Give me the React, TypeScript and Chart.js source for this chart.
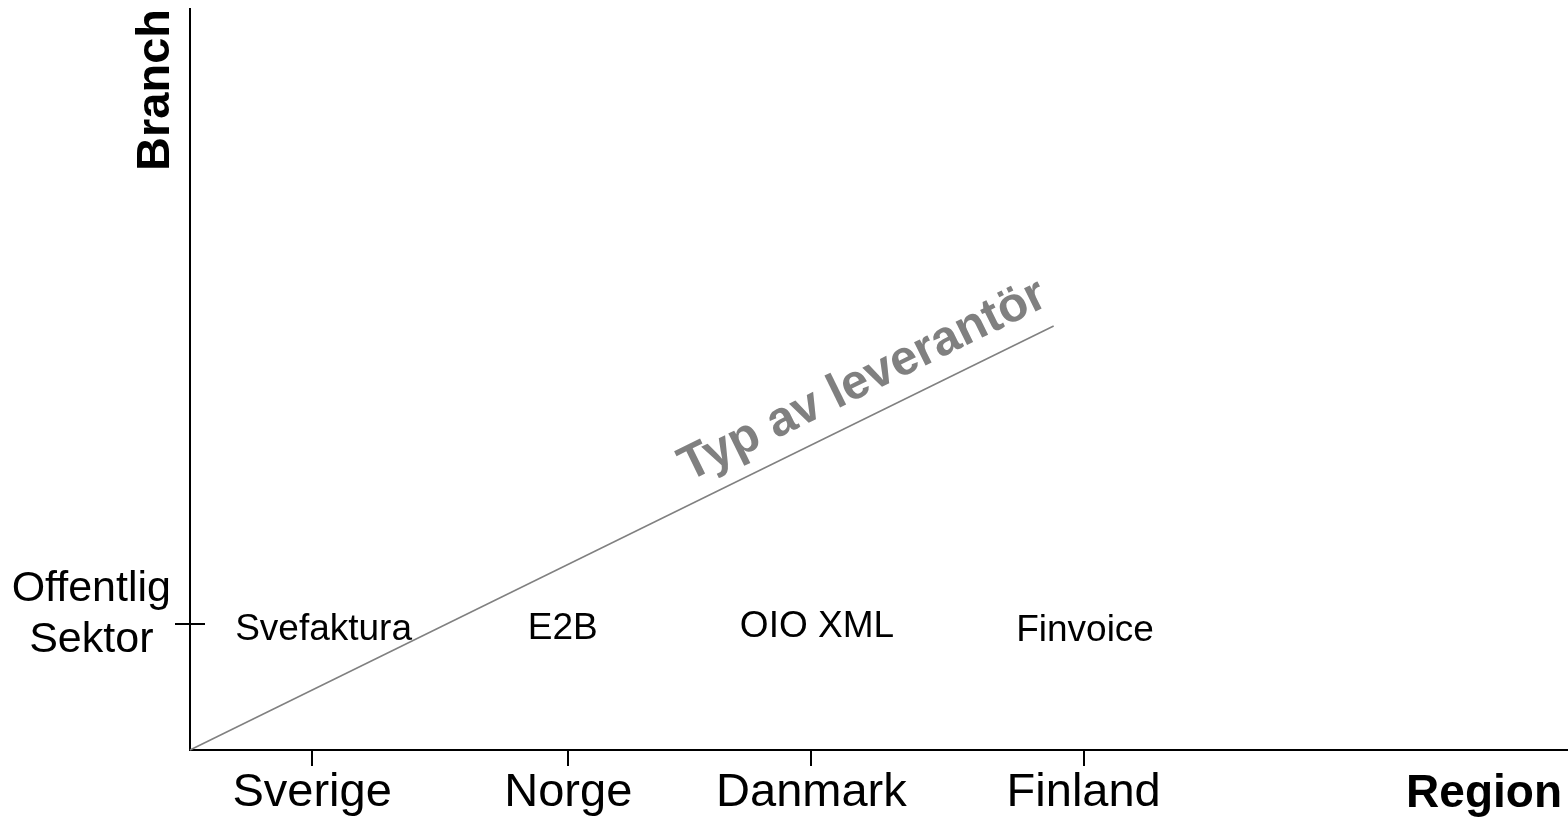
import React, { useEffect, useRef } from "react";
import { Chart, registerables } from "chart.js";

Chart.register(...registerables);

// ---- data ----
const regions = ["Sverige", "Norge", "Danmark", "Finland"];
const regionPositions = [8.87, 27.47, 45.13, 64.9];
const sectorLabels = [["Offentlig", "Sektor"]];
const sectorPositions = [17.0];
const standards = ["Svefaktura", "E2B", "OIO XML", "Finvoice"];
const standardX = [9.7, 27.07, 45.53, 65.0];
const standardY = [16.2, 16.3, 16.6, 16.1];
const trendX = [0, 62.72];
const trendY = [0, 57.22];
const trendLabel = "Typ av leverantör";
const xTitle = "Region";
const yTitle = "Branch";

// ---- style ----
const FONT = "'Liberation Sans', Arial, Helvetica, sans-serif";

const overlayPlugin = {
  id: "overlay",
  afterDraw(chart: any) {
    const ctx = chart.ctx;
    const area = chart.chartArea;
    const yScale = chart.scales.y;
    ctx.save();

    // inner part of the y tick (crosses the axis)
    ctx.strokeStyle = "#000";
    ctx.lineWidth = 2;
    sectorPositions.forEach((v) => {
      const py = Math.round(yScale.getPixelForValue(v));
      ctx.beginPath();
      ctx.moveTo(area.left, py);
      ctx.lineTo(area.left + 15, py);
      ctx.stroke();
    });

    // standard labels
    const meta = chart.getDatasetMeta(1);
    ctx.fillStyle = "#000";
    ctx.font = `37px ${FONT}`;
    ctx.textAlign = "center";
    ctx.textBaseline = "middle";
    meta.data.forEach((pt: any, i: number) => {
      ctx.fillText(standards[i], pt.x, pt.y);
    });

    // trend label along the line
    const lm = chart.getDatasetMeta(0);
    const p0 = lm.data[0];
    const p1 = lm.data[1];
    const a = Math.atan2(p1.y - p0.y, p1.x - p0.x);
    const t = 0.797;
    const off = 21;
    const ax = p0.x + t * (p1.x - p0.x) + off * Math.sin(a);
    const ay = p0.y + t * (p1.y - p0.y) - off * Math.cos(a);
    ctx.save();
    ctx.translate(ax, ay);
    ctx.rotate(a);
    ctx.font = `bold 49px ${FONT}`;
    ctx.fillStyle = "#808080";
    ctx.textAlign = "center";
    ctx.textBaseline = "alphabetic";
    ctx.fillText(trendLabel, 0, 0);
    ctx.restore();

    // y title
    ctx.save();
    ctx.translate(area.left - 21, area.top);
    ctx.rotate(-Math.PI / 2);
    ctx.font = `bold 47px ${FONT}`;
    ctx.fillStyle = "#000";
    ctx.textAlign = "right";
    ctx.textBaseline = "alphabetic";
    ctx.fillText(yTitle, 0, 0);
    ctx.restore();

    // x title
    ctx.font = `bold 46px ${FONT}`;
    ctx.fillStyle = "#000";
    ctx.textAlign = "right";
    ctx.textBaseline = "alphabetic";
    ctx.fillText(xTitle, area.right - 5, area.bottom + 57);

    ctx.restore();
  },
};

export default function App() {
  const ref = useRef<HTMLCanvasElement | null>(null);

  useEffect(() => {
    document.body.style.margin = "0";
    const canvas = ref.current;
    if (!canvas) return;
    const chart = new Chart(canvas, {
      type: "scatter",
      data: {
        datasets: [
          {
            type: "line",
            label: trendLabel,
            data: trendX.map((x, i) => ({ x, y: trendY[i] })),
            borderColor: "#808080",
            borderWidth: 1.5,
            pointRadius: 0,
            fill: false,
            tension: 0,
            clip: false,
          } as any,
          {
            label: "Standarder",
            data: standards.map((_, i) => ({ x: standardX[i], y: standardY[i] })),
            pointRadius: 0,
            pointHoverRadius: 0,
          },
        ],
      },
      options: {
        responsive: false,
        animation: false,
        devicePixelRatio: 1,
        events: [],
        layout: { padding: { top: 9, right: 1, bottom: 0, left: 0 } },
        plugins: { legend: { display: false }, tooltip: { enabled: false } },
        scales: {
          x: {
            type: "linear",
            min: 0,
            max: 100,
            afterBuildTicks: (s: any) => {
              s.ticks = regionPositions.map((v) => ({ value: v }));
            },
            ticks: {
              callback: (_v: any, i: number) => regions[i],
              font: { family: FONT, size: 47, lineHeight: 1.1 },
              color: "#000",
              padding: 1,
              maxRotation: 0,
              autoSkip: false,
            },
            grid: { drawOnChartArea: false, drawTicks: true, tickLength: 16, color: "#000", lineWidth: 2 },
            border: { display: true, color: "#000", width: 2 },
            afterFit: (s: any) => {
              s.height = 71;
              s.paddingLeft = 0;
              s.paddingRight = 0;
            },
          },
          y: {
            type: "linear",
            min: 0,
            max: 100,
            afterBuildTicks: (s: any) => {
              s.ticks = sectorPositions.map((v) => ({ value: v }));
            },
            ticks: {
              callback: (_v: any, i: number) => sectorLabels[i],
              font: { family: FONT, size: 43, lineHeight: 1.186 },
              color: "#000",
              padding: 4,
              crossAlign: "center",
              labelOffset: -9,
              autoSkip: false,
            },
            grid: { drawOnChartArea: false, drawTicks: true, tickLength: 15, color: "#000", lineWidth: 2 },
            border: { display: true, color: "#000", width: 2 },
            afterFit: (s: any) => {
              s.width = 190;
              s.paddingTop = 0;
              s.paddingBottom = 0;
            },
          },
        },
      } as any,
      plugins: [overlayPlugin],
    });
    return () => chart.destroy();
  }, []);

  return (
    <div style={{ width: 1568, height: 821, background: "#fff" }}>
      <canvas ref={ref} width={1568} height={821} style={{ display: "block" }} />
    </div>
  );
}
